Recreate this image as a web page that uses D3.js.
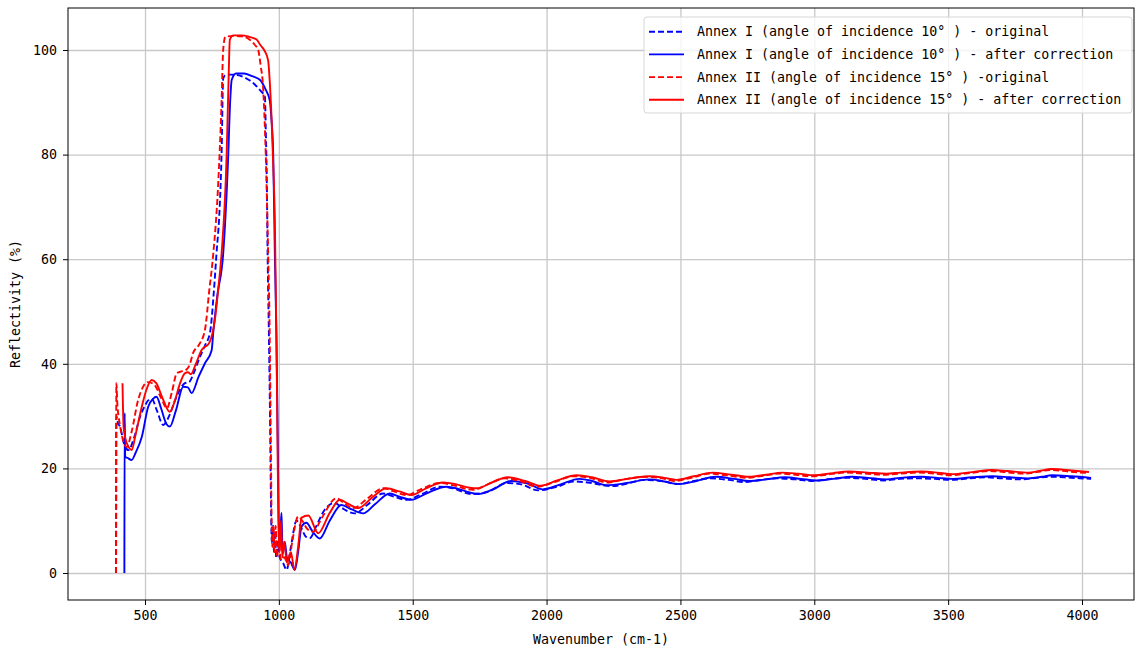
<!DOCTYPE html>
<html lang="en">
<head>
    <meta charset="UTF-8">
    <title>Reflectivity</title>
    <style>
        body { margin: 0; background: #fff; }
        svg text { font-family: "DejaVu Sans Mono", monospace; font-size: 13.3px; fill: #000; }
    </style>
</head>
<body>
    <div id="chart"></div>
    <script src="https://cdn.jsdelivr.net/npm/d3@7"></script>
    <script>
        // Annex I, 10 deg - original
        const wnA1orig = [392, 393, 400, 407, 420, 438, 460, 481, 500, 512, 525, 545, 568, 590, 612, 630, 649, 665, 680, 705, 724, 743, 756, 767, 779, 786, 792, 800, 820, 845, 870, 890, 910, 930, 948, 951, 955, 958, 963, 967, 971, 974, 978, 982, 986, 990, 996, 1003, 1015, 1029, 1045, 1066, 1085, 1100, 1116, 1140, 1170, 1209, 1240, 1284, 1330, 1390, 1430, 1477, 1530, 1601, 1650, 1720, 1780, 1850, 1900, 1970, 2040, 2100, 2170, 2240, 2310, 2360, 2430, 2490, 2550, 2610, 2680, 2740, 2800, 2860, 2930, 2990, 3060, 3120, 3190, 3260, 3320, 3390, 3450, 3510, 3580, 3640, 3700, 3770, 3830, 3890, 3960, 4034];
        const rA1orig  = [0, 30, 28.5, 28, 25, 23.5, 26, 29.8, 32, 33, 33.3, 31, 28.3, 30, 33, 35, 36.3, 36.5, 38, 41.3, 43.5, 46, 53, 61, 70, 80, 94.5, 95.2, 95.3, 95.2, 94.8, 94.2, 93.4, 92.3, 91, 85, 75, 61, 45, 30, 12, 5.7, 9, 4, 8, 3, 6, 3, 2, 0.6, 5, 10, 8.5, 7, 6.7, 9, 12, 13.4, 12.3, 11.4, 13, 15.2, 14.6, 14, 15, 16.5, 16.2, 15.1, 15.5, 17.2, 17, 15.8, 16.5, 17.5, 17.2, 16.6, 17.2, 17.8, 17.6, 17, 17.6, 18.1, 17.8, 17.4, 17.8, 18.1, 17.9, 17.6, 18, 18.2, 18, 17.7, 18, 18.1, 18, 17.8, 18.1, 18.3, 18.1, 17.9, 18.2, 18.4, 18.2, 18];

        // Annex I, 10 deg - after correction
        const wnA1corr = [423, 424, 426, 435, 450, 465, 488, 512, 530, 543, 560, 580, 593, 615, 643, 660, 674, 700, 724, 749, 755, 770, 792, 811, 818, 824, 840, 870, 900, 929, 950, 966, 972, 979, 985, 991, 996, 999, 1003, 1007, 1010, 1013, 1016, 1022, 1030, 1045, 1060, 1072, 1085, 1103, 1125, 1153, 1190, 1234, 1270, 1315, 1360, 1414, 1450, 1495, 1550, 1626, 1670, 1713, 1744, 1800, 1868, 1930, 1986, 2050, 2123, 2170, 2223, 2300, 2384, 2440, 2496, 2560, 2633, 2700, 2757, 2820, 2890, 2950, 3010, 3070, 3140, 3200, 3270, 3321, 3400, 3460, 3515, 3590, 3664, 3730, 3800, 3850, 3888, 3960, 4034];
        const rA1corr  = [0, 30.6, 22.2, 22, 21.6, 23, 26, 31.8, 33.3, 33.7, 31.5, 28.5, 28, 31, 35.6, 35.5, 34.4, 37.5, 40.1, 42.6, 46, 53, 61, 80, 90, 94.3, 95.5, 95.5, 95, 94.3, 92.5, 90.4, 87, 80, 61, 45, 25, 11, 6, 9, 11.5, 5, 3.9, 6, 3, 2, 0.6, 4, 8.9, 9.6, 8, 6.6, 10, 13, 12.2, 11.4, 13.2, 15.2, 14.6, 14, 15.2, 16.5, 16.1, 15.4, 15.1, 16, 17.6, 17.1, 16, 16.9, 18, 17.6, 16.8, 17.2, 17.9, 17.5, 17, 17.6, 18.4, 18, 17.6, 17.9, 18.3, 18, 17.7, 18, 18.4, 18.2, 17.9, 18.2, 18.4, 18.2, 18, 18.3, 18.5, 18.3, 18.1, 18.4, 18.7, 18.5, 18.2];

        // Annex II, 15 deg - original
        const wnA2orig = [392, 393, 397, 402, 415, 432, 450, 474, 495, 511, 535, 560, 582, 600, 619, 640, 657, 668, 679, 700, 724, 740, 755, 773, 786, 792, 800, 830, 860, 890, 910, 923, 932, 941, 951, 960, 966, 970, 973, 976, 980, 984, 988, 993, 1000, 1008, 1020, 1035, 1050, 1072, 1090, 1105, 1128, 1160, 1215, 1245, 1277, 1330, 1390, 1430, 1477, 1530, 1601, 1650, 1725, 1790, 1840, 1900, 1965, 2030, 2100, 2160, 2225, 2290, 2370, 2430, 2475, 2540, 2610, 2670, 2745, 2810, 2870, 2930, 2990, 3060, 3120, 3190, 3260, 3320, 3390, 3450, 3510, 3580, 3650, 3710, 3780, 3830, 3880, 3950, 4026];
        const rA2orig  = [0, 36.3, 32, 29.8, 26, 24.1, 27, 33, 35.8, 36.5, 36, 33.5, 31.5, 34.5, 38.2, 38.6, 39, 40, 42, 43.5, 46.5, 54, 61, 74, 90, 100, 102.5, 102.7, 102.6, 102, 101, 100, 97, 93, 80, 61, 45, 25, 10, 5, 9, 4, 9, 3, 6, 2.5, 3, 1.5, 6, 10.8, 9.8, 8.5, 7.9, 10.5, 14.3, 13.3, 12.4, 14.2, 16.2, 15.6, 14.9, 16, 17.2, 16.8, 15.9, 17.2, 18.1, 17.6, 16.5, 17.4, 18.5, 18.2, 17.3, 17.9, 18.4, 18.1, 17.6, 18.2, 19, 18.7, 18.2, 18.6, 19, 18.8, 18.5, 18.9, 19.2, 19, 18.8, 19, 19.2, 19, 18.7, 19.1, 19.5, 19.3, 19, 19.3, 19.7, 19.4, 19.1];

        // Annex II, 15 deg - after correction
        const wnA2corr = [416, 420, 428, 440, 450, 465, 488, 505, 525, 542, 565, 593, 612, 631, 649, 660, 671, 690, 711, 740, 761, 775, 786, 805, 812, 817, 830, 860, 890, 917, 930, 945, 960, 966, 973, 979, 985, 991, 996, 999, 1003, 1008, 1013, 1020, 1030, 1045, 1058, 1072, 1085, 1110, 1147, 1190, 1228, 1260, 1296, 1350, 1402, 1450, 1495, 1550, 1613, 1660, 1713, 1740, 1800, 1855, 1920, 1978, 2040, 2112, 2170, 2235, 2300, 2384, 2440, 2485, 2550, 2620, 2690, 2757, 2820, 2880, 2940, 3000, 3070, 3130, 3200, 3270, 3321, 3400, 3460, 3515, 3590, 3664, 3720, 3800, 3840, 3888, 3960, 4026];
        const rA2corr  = [36.3, 28, 25.5, 24, 23.5, 26.5, 31.8, 35, 36.9, 36.3, 33.5, 30.8, 33, 36.3, 38.2, 38.4, 38, 40, 42.6, 44, 48.4, 55, 61, 80, 94, 102, 102.8, 102.8, 102.5, 102, 101, 100, 98, 94, 86.6, 78, 67.5, 45, 20, 8, 4, 10, 3, 6, 2, 4, 0.6, 5, 10.6, 11, 7.6, 11.5, 14, 13.2, 12.4, 14.5, 16.2, 15.6, 14.9, 16.2, 17.3, 17, 16.3, 16.2, 17.4, 18.3, 17.6, 16.7, 17.7, 18.7, 18.3, 17.5, 18, 18.5, 18.2, 17.8, 18.5, 19.2, 18.8, 18.4, 18.8, 19.2, 19, 18.7, 19.1, 19.4, 19.2, 19, 19.2, 19.4, 19.2, 18.9, 19.3, 19.7, 19.5, 19.2, 19.5, 19.9, 19.6, 19.3];

        const seriesNames = [
            "Annex I (angle of incidence 10° ) - original",
            "Annex I (angle of incidence 10° ) - after correction",
            "Annex II (angle of incidence 15° ) -original",
            "Annex II (angle of incidence 15° ) - after correction"
        ];
        const xTicks = [500, 1000, 1500, 2000, 2500, 3000, 3500, 4000];
        const yTicks = [0, 20, 40, 60, 80, 100];

        const series = [
            {name: seriesNames[0], x: wnA1orig, y: rA1orig, color: "#0000ff", dash: "6,3"},
            {name: seriesNames[1], x: wnA1corr, y: rA1corr, color: "#0000ff", dash: null},
            {name: seriesNames[2], x: wnA2orig, y: rA2orig, color: "#ff0000", dash: "6,3"},
            {name: seriesNames[3], x: wnA2corr, y: rA2corr, color: "#ff0000", dash: null}
        ];

        const W = 1135, H = 648;
        const m = {left: 68, right: 1, top: 8, bottom: 48};
        const w = W - m.left - m.right, h = H - m.top - m.bottom;

        const x = d3.scaleLinear().domain([212.4, 4194.2]).range([0, w]);
        const y = d3.scaleLinear().domain([-5.16, 108.03]).range([h, 0]);

        const svg = d3.select("#chart").append("svg").attr("width", W).attr("height", H);
        const g = svg.append("g").attr("transform", `translate(${m.left},${m.top})`);

        svg.append("defs").append("clipPath").attr("id", "clip")
            .append("rect").attr("width", w).attr("height", h);

        // grid
        g.append("g").attr("transform", `translate(0,${h})`)
            .call(d3.axisBottom(x).tickValues(xTicks).tickSize(-h).tickFormat(""))
            .call(a => a.select(".domain").remove())
            .call(a => a.selectAll("line").attr("stroke", "#c8c8c8").attr("stroke-width", 1.3));
        g.append("g")
            .call(d3.axisLeft(y).tickValues(yTicks).tickSize(-w).tickFormat(""))
            .call(a => a.select(".domain").remove())
            .call(a => a.selectAll("line").attr("stroke", "#c8c8c8").attr("stroke-width", 1.3));

        const line = d3.line().curve(d3.curveMonotoneX);

        g.append("g").attr("clip-path", "url(#clip)")
            .selectAll("path").data(series).enter().append("path")
            .attr("d", s => line(s.x.map((v, i) => [x(v), y(s.y[i])])))
            .attr("fill", "none")
            .attr("stroke", s => s.color)
            .attr("stroke-width", 1.9)
            .attr("stroke-dasharray", s => s.dash);

        // axes
        const xAxis = g.append("g").attr("transform", `translate(0,${h})`)
            .call(d3.axisBottom(x).tickValues(xTicks).tickFormat(d3.format("d")).tickSize(5).tickPadding(6));
        const yAxis = g.append("g")
            .call(d3.axisLeft(y).tickValues(yTicks).tickFormat(d3.format("d")).tickSize(5).tickPadding(6));
        [xAxis, yAxis].forEach(a => {
            a.select(".domain").remove();
            a.selectAll("text").style("font-family", "DejaVu Sans Mono").style("font-size", "13.3px");
            a.selectAll("line").attr("stroke", "#000");
        });

        g.append("rect").attr("width", w).attr("height", h)
            .attr("fill", "none").attr("stroke", "#000").attr("stroke-width", 1);

        g.append("text").attr("x", w / 2).attr("y", h + 44).attr("text-anchor", "middle")
            .text("Wavenumber (cm-1)");
        g.append("text").attr("transform", `translate(${20 - m.left},${h / 2}) rotate(-90)`)
            .attr("text-anchor", "middle").text("Reflectivity (%)");

        // legend
        const lg = svg.append("g").attr("transform", "translate(644,17)");
        lg.append("rect").attr("width", 488).attr("height", 96).attr("rx", 3)
            .attr("fill", "#fff").attr("fill-opacity", 0.8)
            .attr("stroke", "#d6d6d6");
        const item = lg.selectAll(".item").data(series).enter().append("g")
            .attr("transform", (d, i) => `translate(0,${14.7 + i * 22.7})`);
        item.append("line").attr("x1", 5).attr("x2", 40)
            .attr("stroke", d => d.color).attr("stroke-width", 1.9)
            .attr("stroke-dasharray", d => d.dash);
        item.append("text").attr("x", 53).attr("dy", "0.35em").text(d => d.name);
    </script>
</body>
</html>
